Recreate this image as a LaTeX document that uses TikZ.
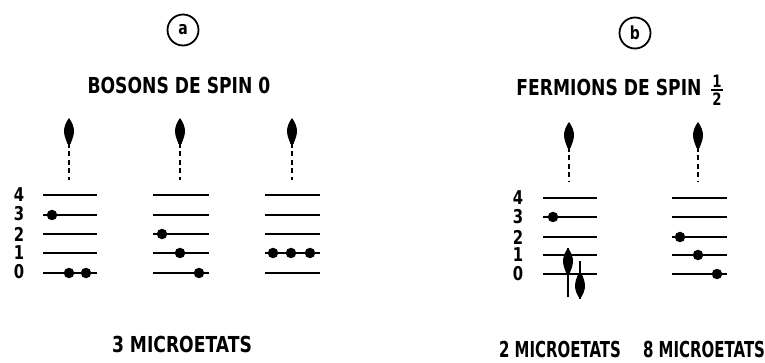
\documentclass[tikz,border=0pt]{standalone}
\usepackage{fontspec}
\newfontfamily\lett[FakeStretch=0.78]{DejaVu Sans}
\newfontfamily\lettn[FakeStretch=0.68]{DejaVu Sans}
\begin{document}
\begin{tikzpicture}[x=1pt,y=-1pt,
  lettering/.style={font=\lett\bfseries\fontsize{22}{26}\selectfont, inner sep=0pt, anchor=center},
  letteringn/.style={font=\lettn\bfseries\fontsize{22}{26}\selectfont, inner sep=0pt, anchor=center},
  digit/.style={font=\lett\bfseries\fontsize{19}{22}\selectfont, inner sep=0pt, anchor=center},
  fracdigit/.style={font=\lett\bfseries\fontsize{17}{20}\selectfont, inner sep=0pt, anchor=center},
  level/.style={line width=2.5pt},
  dot/.style={circle, fill=black, inner sep=0pt, minimum size=10.5pt},
  dashup/.style={line width=2.5pt, dash pattern=on 5pt off 3.5pt},
  circlabel/.style={circle, draw, line width=1.8pt, minimum size=31pt, inner sep=0pt, font=\lett\bfseries\fontsize{18}{20}\selectfont},
  headup/.pic={\fill (0,0) .. controls (3,4) and (5.2,9) .. (5,14) .. controls (4.6,19) and (2.4,23) .. (1.5,26) -- (-1.5,26) .. controls (-2.4,23) and (-4.6,19) .. (-5,14) .. controls (-5.2,9) and (-3,4) .. (0,0) -- cycle;}
]
\useasboundingbox (0,0) rectangle (765,363);
\fill[white] (0,0) rectangle (765,363);

% headers
\node[circlabel] (ca) at (183,30) {a};
\node[circlabel] (cb) at (635,33) {b};
\node[lettering] (tb) at (179,85) {BOSONS DE SPIN 0};
\node[lettering] (tf) at (609,87) {FERMIONS DE SPIN};
\node[fracdigit] (fn) at (717,81) {1};
\node[fracdigit] (fd) at (717,99) {2};
\draw[line width=1.6pt] (711,90) -- (723,90);

% level labels
\foreach \n/\y in {4/195,3/214,2/234,1/253,0/272}{
  \node[digit] (lb\n) at (19,\y) {\n};
}
\foreach \n/\y in {4/198,3/217,2/237,1/255,0/274}{
  \node[digit] (lf\n) at (518,\y) {\n};
}

% level lines
\foreach \xa/\xb in {43/97,153/209,265/320}{
  \foreach \y in {195,215,234,253,273}{
    \draw[level] (\xa,\y) -- (\xb,\y);
  }
}
\foreach \xa/\xb in {543/597,672/727}{
  \foreach \y in {198,217,237,255,274}{
    \draw[level] (\xa,\y) -- (\xb,\y);
  }
}

% dashed up arrows
\foreach \x/\t/\b in {69/118/180,180/118/180,292/118/180,569/122/182,698/122/182}{
  \coordinate (top\x) at (\x,\t);
  \coordinate (bot\x) at (\x,\b);
  \pic at (top\x) {headup};
  \draw[dashup] ([yshift=-25pt]top\x) -- (bot\x);
}

% boson dots
\node[dot] (d1) at (52,215) {};
\node[dot] (d2) at (69,273) {};
\node[dot] (d3) at (86,273) {};
\node[dot] (d4) at (162,234) {};
\node[dot] (d5) at (180,253) {};
\node[dot] (d6) at (199,273) {};
\node[dot] (d7) at (273,253) {};
\node[dot] (d8) at (291,253) {};
\node[dot] (d9) at (310,253) {};

% fermion dots
\node[dot] (f1) at (553,217) {};
\node[dot] (f2) at (680,237) {};
\node[dot] (f3) at (698,255) {};
\node[dot] (f4) at (717,274) {};

% spin arrows
\coordinate (sut) at (568,248);
\coordinate (sub) at (568,297);
\draw[line width=1.8pt] (sub) -- (sut);
\pic at (sut) {headup};
\coordinate (sdt) at (580,261);
\coordinate (sdb) at (580,299);
\draw[line width=1.8pt] (sdt) -- (sdb);
\pic[yscale=-1] at (sdb) {headup};

% bottom captions
\node[lettering] (m1) at (182,344) {3 MICROETATS};
\node[letteringn] (m2) at (560,349) {2 MICROETATS};
\node[letteringn] (m3) at (704,349) {8 MICROETATS};
\end{tikzpicture}
\end{document}
